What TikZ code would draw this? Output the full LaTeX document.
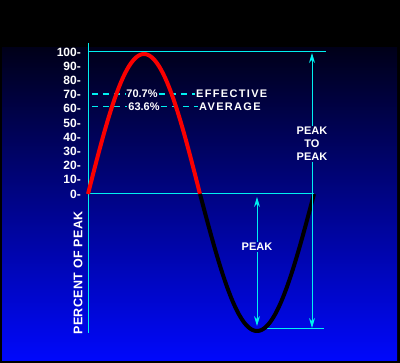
\documentclass[tikz,border=0pt]{standalone}
\usepackage{fontspec}
\setmainfont{Liberation Sans}
\usepackage{tikz}
\usetikzlibrary{arrows.meta,positioning}
\definecolor{scopecyan}{RGB}{0,240,240}
\definecolor{deepnavy}{RGB}{0,0,25}
\definecolor{brightblue}{RGB}{0,8,252}
\definecolor{wavered}{RGB}{250,0,0}
\tikzset{
    %Define standard arrow tip
    >={Stealth[length=10pt,width=6pt]},
    %Define style for the cyan lines
    gridline/.style={
           draw=scopecyan,
           line width=1pt},
    %Define style for dashed level lines
    levelline/.style={
           draw=scopecyan,
           line width=1pt,
           dash pattern=on 6pt off 5pt},
    %Define style for labels
    ticklbl/.style={
           text=white,
           inner sep=0pt,
           anchor=east,
           font=\bfseries\fontsize{12}{12}\selectfont},
    lbl/.style={
           text=white,
           inner sep=1pt,
           font=\bfseries\fontsize{11}{13}\selectfont,
           align=center},
    widelbl/.style={
           lbl,
           font=\bfseries\fontsize{11}{13}\selectfont\addfontfeature{LetterSpace=12}},
    % Define arrow style
    pil/.style={
           ->,
           draw=scopecyan,
           fill=scopecyan,
           line width=1pt},
    % Define wave style
    wave/.style={
           line width=4pt,
           line join=round}
}
\begin{document}
\begin{tikzpicture}[x=1pt,y=-1pt]
\useasboundingbox (0,0) rectangle (400,363);
 %background
\fill[black] (0,0) rectangle (400,363);
\shade[top color=deepnavy, bottom color=brightblue] (2,48) rectangle (397,361);
 %scale
\foreach \v in {0,10,...,100}
    \node[ticklbl] (t\v) at (81,{194-1.42*\v}) {\v-};
\node[lbl, rotate=90, font=\bfseries\fontsize{12.5}{12.5}\selectfont\addfontfeature{LetterSpace=3}] (pct) at (78,273) {PERCENT OF PEAK};
 %lines
\coordinate (axtop) at (88,43);
\coordinate (axbot) at (88,333);
\coordinate (top0) at (88,52);
\coordinate (top1) at (326,52);
\coordinate (zero0) at (88,194);
\coordinate (zero1) at (314,194);
\coordinate (low0) at (267,329);
\coordinate (low1) at (324,329);
\draw[gridline] (axtop) -- (axbot);
\draw[gridline] (top0) -- (top1);
\draw[gridline] (zero0) -- (zero1);
\draw[gridline] (low0) -- (low1);
 %levels
\coordinate (l70) at (92,94);
\coordinate (l63) at (92,107);
\node[lbl] (v70) at (142,94) {70.7\%};
\node[widelbl, anchor=west] (eff) at (195,94) {EFFECTIVE};
\node[lbl] (v63) at (144,107) {63.6\%};
\node[widelbl, anchor=west] (avg) at (198,107) {AVERAGE};
\draw[levelline, line width=1.5pt] (l70) -- (v70.west);
\draw[levelline, line width=1.5pt] (v70.east) -- (eff.west);
\draw[levelline] (l63) -- (v63.west);
\draw[levelline] (v63.east) -- (avg.west);
 %waves
\draw[wave, wavered] plot[domain=88:200, samples=80, smooth] ({\x},{194-140*sin((\x-88)/112*180)});
\draw[wave, black] plot[domain=200:314, samples=80, smooth] ({\x},{194+137*sin((\x-200)/114*180)});
 %arrows
\node[lbl] (pp) at (312,144) {PEAK\\TO\\PEAK};
\node[lbl] (pk) at (257,247) {PEAK};
\coordinate (pptop) at (312,53);
\coordinate (ppbot) at (312,328);
\coordinate (pktop) at (257,197);
\coordinate (pkbot) at (257,326);
\draw[pil] (pp.north) -- (pptop);
\draw[pil] (pp.south) -- (ppbot);
\draw[pil] (pk.north) -- (pktop);
\draw[pil] (pk.south) -- (pkbot);
\end{tikzpicture}
\end{document}
